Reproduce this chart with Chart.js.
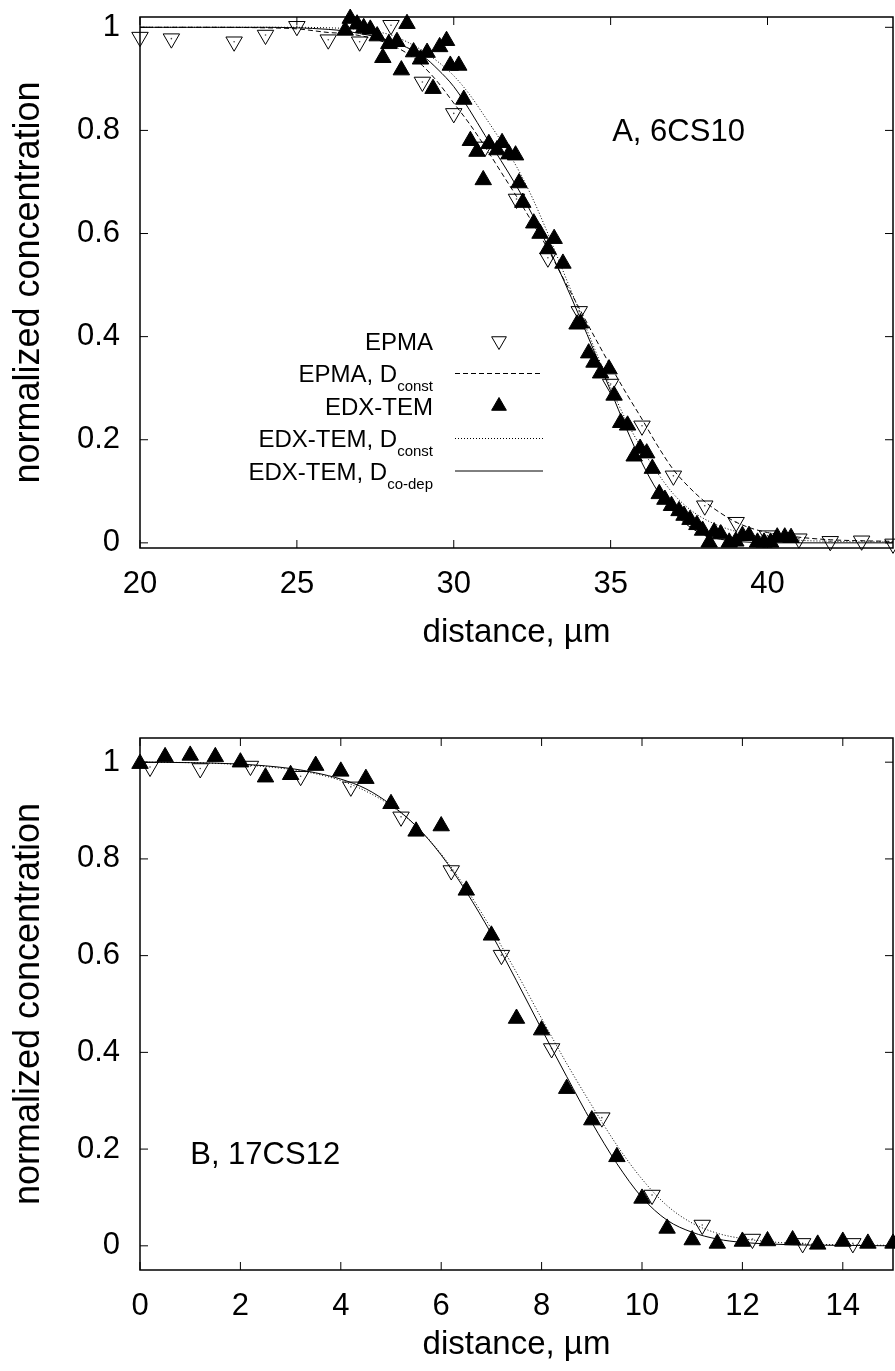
<!DOCTYPE html>
<html>
<head>
<meta charset="utf-8">
<script src="https://cdn.jsdelivr.net/npm/chart.js@4.4.0/dist/chart.umd.min.js"></script>
<style>
  body { margin: 0; background: #fff; }
  #wrap { position: relative; width: 895px; height: 1371px; }
  canvas { position: absolute; left: 0; }
</style>
</head>
<body>
<div id="wrap">
  <canvas id="chartA" width="895" height="660" style="top:0"></canvas>
  <canvas id="chartB" width="895" height="711" style="top:660px"></canvas>
</div>
<script>
// ---- panel A, 6CS10 ----
const xTicksA = [20, 25, 30, 35, 40];
const yTicks = [0, 0.2, 0.4, 0.6, 0.8, 1];
const yTickLabels = ['0', '0.2', '0.4', '0.6', '0.8', '1'];

const epmaXA = [20, 21, 23, 24, 25, 26, 27, 28, 29, 30, 31, 32, 33, 34, 35, 36, 37, 38, 39, 40, 41, 42, 43, 44];
const epmaYA = [0.981, 0.978, 0.972, 0.985, 1.002, 0.976, 0.972, 1.004, 0.894, 0.833, 0.768, 0.667, 0.553, 0.449,
  0.308, 0.227, 0.130, 0.072, 0.040, 0.014, 0.008, 0.003, 0.004, -0.002];

const edxXA = [26.54, 26.70, 26.92, 27.13, 27.34, 27.56, 27.74, 27.93, 28.19, 28.33, 28.51, 28.72, 28.94, 29.15,
  29.34, 29.55, 29.77, 29.89, 30.16, 30.32, 30.53, 30.74, 30.94, 31.12, 31.38, 31.54, 31.76, 31.97, 32.08,
  32.2, 32.55, 32.75, 33.0, 33.2, 33.48, 33.93, 34.04, 34.30, 34.47, 34.68, 34.95, 35.11, 35.32, 35.54, 35.75,
  35.94, 36.15, 36.33, 36.55, 36.73, 36.94, 37.18, 37.34, 37.53, 37.75, 37.93, 38.14, 38.30, 38.51, 38.78,
  38.99, 39.20, 39.41, 39.68, 39.89, 40.10, 40.31, 40.55, 40.75];
const edxYA = [0.994, 1.017, 1.006, 0.999, 0.996, 0.983, 0.941, 0.968, 0.972, 0.917, 1.007, 0.952, 0.938, 0.951,
  0.881, 0.962, 0.974, 0.926, 0.926, 0.860, 0.780, 0.759, 0.704, 0.774, 0.762, 0.776, 0.754, 0.752, 0.698,
  0.66, 0.62, 0.60, 0.57, 0.59, 0.542, 0.424, 0.426, 0.368, 0.350, 0.329, 0.337, 0.286, 0.233, 0.228, 0.168,
  0.183, 0.174, 0.144, 0.095, 0.084, 0.072, 0.062, 0.053, 0.045, 0.035, 0.024, 0.001, 0.021, 0.017, 0.001,
  0.003, 0.014, 0.014, 0.001, 0.001, 0.001, 0.011, 0.011, 0.010];

const curveXA = [20, 22, 24, 25, 26, 26.5, 27, 27.5, 28, 28.5, 29, 29.5, 30, 30.5, 31, 31.5, 32, 32.5, 33, 33.5,
  34, 34.5, 35, 35.5, 36, 36.5, 37, 37.5, 38, 38.5, 39, 39.5, 40, 41, 42, 43, 44];
const epmaFitA = [1.0, 1.0, 0.999, 0.997, 0.99, 0.988, 0.984, 0.977, 0.966, 0.95, 0.926, 0.893, 0.853, 0.813,
  0.768, 0.72, 0.672, 0.622, 0.57, 0.512, 0.455, 0.398, 0.343, 0.29, 0.24, 0.188, 0.142, 0.108, 0.08, 0.058,
  0.04, 0.028, 0.02, 0.011, 0.006, 0.004, 0.003];
const edxConstA = [1, 1, 1, 1, 0.999, 0.998, 0.996, 0.992, 0.985, 0.972, 0.955, 0.933, 0.906, 0.87, 0.826, 0.78,
  0.73, 0.67, 0.6, 0.525, 0.45, 0.375, 0.302, 0.237, 0.182, 0.135, 0.095, 0.066, 0.046, 0.032, 0.022, 0.015,
  0.01, 0.005, 0.003, 0.002, 0.002];
const edxCodepA = [1, 1, 1, 0.999, 0.996, 0.993, 0.988, 0.982, 0.973, 0.961, 0.945, 0.918, 0.885, 0.84, 0.79,
  0.742, 0.692, 0.637, 0.575, 0.51, 0.44, 0.368, 0.295, 0.222, 0.155, 0.1, 0.06, 0.032, 0.015, 0.007, 0.003,
  0.001, 0, 0, 0, 0, 0];

// ---- panel B, 17CS12 ----
const xTicksB = [0, 2, 4, 6, 8, 10, 12, 14];

const epmaXB = [0.2, 1.2, 2.2, 3.2, 4.2, 5.2, 6.2, 7.2, 8.2, 9.2, 10.2, 11.2, 12.2, 13.2, 14.2];
const epmaYB = [0.99, 0.987, 0.992, 0.971, 0.949, 0.887, 0.776, 0.601, 0.408, 0.265, 0.105, 0.043, 0.014, 0.005, 0.005];

const edxXB = [0, 0.5, 1, 1.5, 2, 2.5, 3, 3.5, 4, 4.5, 5, 5.5, 6, 6.5, 7, 7.5, 8, 8.5, 9, 9.5, 10, 10.5, 11,
  11.5, 12, 12.5, 13, 13.5, 14, 14.5, 15];
const edxYB = [0.997, 1.011, 1.014, 1.011, 1.0, 0.969, 0.974, 0.993, 0.981, 0.966, 0.914, 0.857, 0.868, 0.735,
  0.642, 0.470, 0.446, 0.325, 0.260, 0.184, 0.098, 0.036, 0.012, 0.005, 0.009, 0.010, 0.012, 0.003, 0.009,
  0.005, 0.005];

const curveXB = [0, 1, 2, 3, 3.5, 4, 4.5, 5, 5.5, 6, 6.5, 7, 7.5, 8, 8.5, 9, 9.5, 10, 10.5, 11, 11.5, 12, 12.5,
  13, 14, 15];
const epmaFitB = [1.0, 0.999, 0.995, 0.985, 0.976, 0.962, 0.94, 0.91, 0.868, 0.81, 0.738, 0.655, 0.565, 0.47,
  0.377, 0.29, 0.208, 0.138, 0.083, 0.047, 0.026, 0.015, 0.009, 0.005, 0.002, 0.001];
const edxCodepB = [1.0, 0.999, 0.996, 0.987, 0.978, 0.965, 0.945, 0.912, 0.868, 0.808, 0.732, 0.645, 0.548,
  0.448, 0.35, 0.255, 0.17, 0.1, 0.053, 0.028, 0.014, 0.007, 0.004, 0.002, 0.001, 0];

const FONT = "'Liberation Sans', Arial, Helvetica, sans-serif";

function pts(xs, ys) {
  return xs.map((x, i) => ({ x: x, y: ys[i] }));
}

// point / line styles
function upTri(data) {
  return { data: data, pointStyle: 'triangle', pointRadius: 9.5, pointBorderWidth: 1,
    borderColor: '#000', backgroundColor: '#000', pointBackgroundColor: '#000', showLine: false, clip: false };
}
function downTri(data) {
  return { data: data, pointStyle: 'triangle', rotation: 180, pointRadius: 9.5, pointBorderWidth: 1,
    borderColor: '#000', pointBackgroundColor: 'rgba(0,0,0,0)', backgroundColor: 'rgba(0,0,0,0)',
    showLine: false, clip: false };
}
function dots(data) {
  return { data: data, pointStyle: 'circle', pointRadius: 0.8, pointBorderWidth: 0,
    pointBackgroundColor: '#444', showLine: false, clip: false };
}
function curve(data, dash) {
  return { data: data, showLine: true, pointRadius: 0, borderColor: '#000', borderWidth: 1,
    borderDash: dash, cubicInterpolationMode: 'monotone', fill: false };
}

// no label overflow padding: the plot box is set by layout padding only
function noPad(s) {
  s.paddingLeft = 0; s.paddingRight = 0; s.paddingTop = 0; s.paddingBottom = 0;
}

// frame with inward ticks on all four sides, legend and panel label
const framePlugin = {
  id: 'frame',
  beforeDatasetsDraw(chart) {
    const { ctx, chartArea: a, scales } = chart;
    ctx.save();
    ctx.strokeStyle = '#000';
    ctx.lineWidth = 1;
    ctx.beginPath();
    scales.x.ticks.forEach(t => {
      const px = scales.x.getPixelForValue(t.value);
      ctx.moveTo(px, a.bottom); ctx.lineTo(px, a.bottom - 8);
      ctx.moveTo(px, a.top); ctx.lineTo(px, a.top + 8);
    });
    scales.y.ticks.forEach(t => {
      const py = scales.y.getPixelForValue(t.value);
      ctx.moveTo(a.left, py); ctx.lineTo(a.left + 8, py);
      ctx.moveTo(a.right, py); ctx.lineTo(a.right - 8, py);
    });
    ctx.stroke();
    ctx.lineWidth = 1.5;
    ctx.strokeRect(a.left, a.top, a.right - a.left, a.bottom - a.top);
    ctx.restore();
  },
  afterDatasetsDraw(chart, args, opts) {
    const { ctx, scales } = chart;
    const lg = opts.legend;
    ctx.save();
    ctx.fillStyle = '#000';
    ctx.textBaseline = 'alphabetic';
    lg.items.forEach((it, i) => {
      const y = lg.top + i * lg.rowH;
      const base = y + lg.size * 0.36;
      ctx.font = lg.size + 'px ' + FONT;
      const wm = ctx.measureText(it.text).width;
      ctx.font = lg.subSize + 'px ' + FONT;
      const ws = it.sub ? ctx.measureText(it.sub).width : 0;
      const x0 = lg.textRight - wm - ws;
      ctx.font = lg.size + 'px ' + FONT;
      ctx.fillText(it.text, x0, base);
      if (it.sub) {
        ctx.font = lg.subSize + 'px ' + FONT;
        ctx.fillText(it.sub, x0 + wm, base + lg.subDy);
      }
      const ds = chart.data.datasets[it.ds];
      if (ds.showLine) {
        ctx.strokeStyle = '#000';
        ctx.lineWidth = 1;
        ctx.setLineDash(ds.borderDash || []);
        ctx.beginPath();
        ctx.moveTo(lg.sampleLeft, y);
        ctx.lineTo(lg.sampleRight, y);
        ctx.stroke();
        ctx.setLineDash([]);
      } else {
        ctx.strokeStyle = '#000';
        ctx.fillStyle = ds.pointBackgroundColor;
        Chart.helpers.drawPoint(ctx, {
          pointStyle: ds.pointStyle, rotation: ds.rotation || 0,
          radius: 8.5, borderWidth: 1
        }, (lg.sampleLeft + lg.sampleRight) / 2, y);
        ctx.fillStyle = '#000';
      }
    });
    const lb = opts.label;
    ctx.font = lb.size + 'px ' + FONT;
    ctx.textAlign = 'left';
    ctx.fillText(lb.text, scales.x.getPixelForValue(lb.x), scales.y.getPixelForValue(lb.y));
    ctx.restore();
  }
};

function makeChart(id, cfg) {
  return new Chart(document.getElementById(id), {
    type: 'scatter',
    data: { datasets: cfg.datasets },
    options: {
      responsive: false,
      animation: false,
      events: [],
      layout: { padding: cfg.padding, autoPadding: false },
      plugins: {
        legend: { display: false },
        tooltip: { enabled: false },
        frame: { legend: cfg.legend, label: cfg.label }
      },
      scales: {
        x: {
          type: 'linear', min: cfg.xMin, max: cfg.xMax,
          afterBuildTicks: s => { s.ticks = cfg.xTicks.map(v => ({ value: v })); },
          afterFit: s => { s.height = cfg.xHeight; noPad(s); },
          grid: { display: false, drawTicks: false },
          border: { display: false },
          ticks: { color: '#000', padding: 18, maxRotation: 0, autoSkip: false,
            font: { family: FONT, size: 31 }, callback: v => String(v) },
          title: { display: true, text: 'distance, \u00b5m', color: '#000',
            font: { family: FONT, size: 33 }, padding: { top: 0, bottom: cfg.xTitlePad } }
        },
        y: {
          type: 'linear', min: cfg.yMin, max: cfg.yMax,
          afterBuildTicks: s => { s.ticks = yTicks.map(v => ({ value: v })); },
          afterFit: s => { s.width = 140; noPad(s); },
          grid: { display: false, drawTicks: false },
          border: { display: false },
          ticks: { color: '#000', padding: 20, autoSkip: false,
            font: { family: FONT, size: 31 }, callback: (v, i) => yTickLabels[i] },
          title: { display: true, text: 'normalized concentration', color: '#000',
            font: { family: FONT, size: 36 }, padding: { top: 7, bottom: 0 } }
        }
      }
    },
    plugins: [framePlugin]
  });
}

// panel A: datasets listed top-most first
const dsA = [
  curve(pts(curveXA, edxCodepA), []),
  curve(pts(curveXA, edxConstA), [1, 2]),
  upTri(pts(edxXA, edxYA)),
  curve(pts(curveXA, epmaFitA), [5, 3]),
  dots(pts(epmaXA, epmaYA)),
  downTri(pts(epmaXA, epmaYA))
];
makeChart('chartA', {
  datasets: dsA,
  xMin: 20, xMax: 44, xTicks: xTicksA,
  yMin: -0.01, yMax: 1.02,
  padding: { top: 17, right: 2, left: 0, bottom: 0 },
  xHeight: 112, xTitlePad: 7,
  legend: {
    top: 341, rowH: 32.5, textRight: 433, sampleLeft: 455, sampleRight: 543,
    size: 24, subSize: 15, subDy: 9,
    items: [
      { text: 'EPMA', ds: 5 },
      { text: 'EPMA, D', sub: 'const', ds: 3 },
      { text: 'EDX-TEM', ds: 2 },
      { text: 'EDX-TEM, D', sub: 'const', ds: 1 },
      { text: 'EDX-TEM, D', sub: 'co-dep', ds: 0 }
    ]
  },
  label: { text: 'A, 6CS10', x: 35.05, y: 0.78, size: 31 }
});

// panel B
const dsB = [
  curve(pts(curveXB, edxCodepB), []),
  upTri(pts(edxXB, edxYB)),
  curve(pts(curveXB, epmaFitB), [1, 2]),
  dots(pts(epmaXB, epmaYB)),
  downTri(pts(epmaXB, epmaYB))
];
makeChart('chartB', {
  datasets: dsB,
  xMin: 0, xMax: 15, xTicks: xTicksB,
  yMin: -0.05, yMax: 1.05,
  padding: { top: 78, right: 2, left: 0, bottom: 0 },
  xHeight: 101, xTitlePad: 6,
  legend: {
    top: 764, rowH: 33, textRight: 744, sampleLeft: 766, sampleRight: 853,
    size: 31, subSize: 24, subDy: 9,
    items: [
      { text: 'EPMA', ds: 4 },
      { text: 'EPMA, D', sub: 'const', ds: 2 },
      { text: 'EDX-TEM', ds: 1 },
      { text: 'EDX-TEM, D', sub: 'co-dep', ds: 0 }
    ]
  },
  label: { text: 'B, 17CS12', x: 1.0, y: 0.17, size: 31 }
});
</script>
</body>
</html>
